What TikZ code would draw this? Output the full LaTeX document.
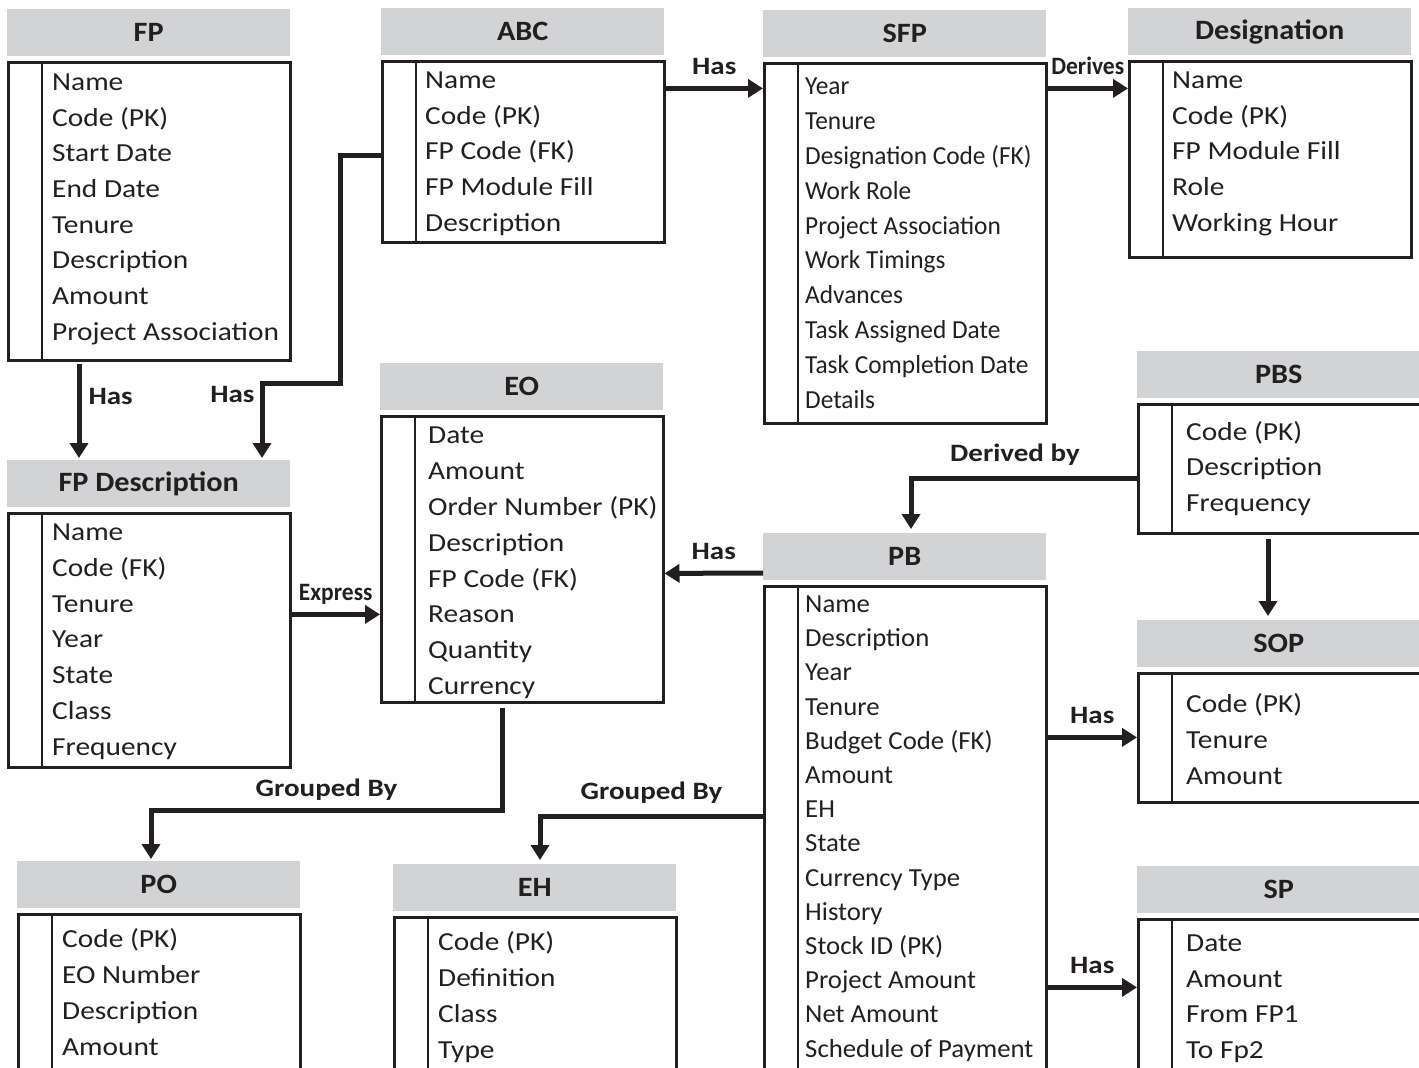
\documentclass[tikz,border=0pt]{standalone}
\usepackage{fontspec}
\setmainfont{Carlito}
\newfontfamily\wideface[FakeStretch=1.13]{Carlito}
\newfontfamily\pbface[FakeStretch=1.03]{Carlito}
\newfontfamily\sfpface[FakeStretch=0.975]{Carlito}
\newfontfamily\titleface[FakeStretch=1.08]{Carlito}
\newfontfamily\labface[FakeStretch=1.16]{Carlito}
\newfontfamily\narrowface[FakeStretch=0.94]{Carlito}
\usetikzlibrary{arrows.meta,positioning,calc}
\definecolor{ink}{HTML}{231F20}
\definecolor{headgray}{HTML}{D1D3D4}
\tikzset{
  head/.style={fill=headgray,minimum width=283pt,minimum height=47pt,inner sep=0pt,anchor=north west,text=ink,font=\titleface\fontsize{28}{30}\selectfont\bfseries},
  body/.style={draw=ink,line width=2.5pt,minimum width=282pt,inner sep=0pt,anchor=north west},
  boxline/.style={draw=ink,line width=2.5pt},
  attr/.style={anchor=base west,inner sep=0pt,text=ink,font=\wideface\fontsize{26}{30}\selectfont},
  pbattr/.style={attr/.append style={font=\pbface\fontsize{26}{30}\selectfont}},
  sfpattr/.style={attr/.append style={font=\sfpface\fontsize{26}{30}\selectfont}},
  link/.style={draw=ink,line width=5pt,-{Triangle[length=15pt,width=18pt]}},
  lab/.style={text=ink,inner sep=2pt,font=\labface\fontsize{25}{28}\selectfont\bfseries},
  narrowlab/.style={lab,font=\narrowface\fontsize{25}{28}\selectfont\bfseries}
}
% name, x, header top, body height, indent, first baseline, row step, title, rows
\newcommand{\entity}[9]{%
  \node[head] (#1h) at (#2,#3) {#8};
  \node[body,minimum height=#4pt] (#1) at ($(#1h.south west)+(0,5)$) {};
  \draw[boxline] ($(#1.north west)+(35,0)$) -- ($(#1.south west)+(35,0)$);
  \foreach \fld [count=\k] in {#9}
    \node[attr] (#1r\k) at ($(#1.north west)+(#5,{#6+(\k-1)*#7})$) {\fld};
}
\begin{document}
\begin{tikzpicture}[x=1pt,y=-1pt]
  \useasboundingbox (0,0) rectangle (1419,1068);
  \clip (0,0) rectangle (1419,1068);
  % tables
  \entity{fp}{7}{9}{298}{45}{29}{35.7}{FP}{Name,Code (PK),Start Date,End Date,Tenure,Description,Amount,Project Association}
  \entity{abc}{381}{8}{181}{44}{28}{35.75}{ABC}{Name,Code (PK),FP Code (FK),FP Module Fill,Description}
  \begin{scope}[sfpattr]
    \entity{sfp}{763}{10}{360}{42}{32}{34.9}{SFP}{Year,Tenure,Designation Code (FK),Work Role,Project Association,Work Timings,Advances,Task Assigned Date,Task Completion Date,Details}
  \end{scope}
  \entity{dsg}{1128}{8}{196}{44}{28}{35.75}{Designation}{Name,Code (PK),FP Module Fill,Role,Working Hour}
  \entity{pbs}{1137}{351}{129}{49}{37}{35.5}{PBS}{Code (PK),Description,Frequency}
  \entity{sop}{1137}{620}{129}{49}{40}{36}{SOP}{Code (PK),Tenure,Amount}
  \entity{sp}{1137}{866}{250}{49}{33}{35.7}{SP}{Date,Amount,From FP1,To Fp2}
  \begin{scope}[pbattr]
    \entity{pb}{763}{533}{600}{42}{27}{34.2}{PB}{Name,Description,Year,Tenure,Budget Code (FK),Amount,EH,State,Currency Type,History,Stock ID (PK),Project Amount,Net Amount,Schedule of Payment}
  \end{scope}
  \entity{eo}{380}{363}{286}{48}{28}{35.9}{EO}{Date,Amount,Order Number (PK),Description,FP Code (FK),Reason,Quantity,Currency}
  \entity{fpd}{7}{460}{254}{45}{28}{35.8}{FP Description}{Name,Code (FK),Tenure,Year,State,Class,Frequency}
  \entity{po}{17}{861}{250}{45}{34}{36}{PO}{Code (PK),EO Number,Description,Amount}
  \entity{eh}{393}{864}{250}{45}{34}{36}{EH}{Code (PK),Definition,Class,Type}
  % relations
  \draw[link] ($(abc.north east)+(0,28)$) -- node[lab,above=9pt] (l1) {Has} ($(sfp.north west)+(0,26)$);
  \draw[link] ($(sfp.north east)+(0,26)$) -- node[narrowlab,above=9pt] (l2) {Derives} ($(dsg.north west)+(0,28)$);
  \draw[link] ($(fp.south west)+(72,2)$) -- node[lab,right=5pt,pos=0.35] (l3) {Has} ($(fpdh.north west)+(72,-2)$);
  \draw[link] ($(abc.north west)+(0,95)$) -- ++(-41,0) |- ($(fpdh.north west)+(255,-77)$)
    -- node[lab,left=3pt,pos=0.15] (l4) {Has} ($(fpdh.north west)+(255,-2)$);
  \draw[link] ($(fpd.north east)+(0,102)$) -- node[narrowlab,above=5pt] (l5) {Express} ($(eo.north west)+(0,199)$);
  \draw[link] ($(pbh.north west)+(0,40)$) -- node[lab,above=9pt] (l6) {Has} ($(eo.north east)+(0,158)$);
  \draw[link] ($(eo.south west)+(122,4)$) |- node[lab,above=5pt,pos=0.75] (l7) {Grouped By} ($(poh.north west)+(134,-51)$)
    -- ($(poh.north west)+(134,-2)$);
  \draw[link] ($(pb.north west)+(0,231)$) -| node[lab,above=8pt,pos=0.25] (l8) {Grouped By} ($(ehh.north west)+(147,-4)$);
  \draw[link] ($(pbs.north west)+(0,75)$) -| node[lab,above=8pt,pos=0.27] (l9) {Derived by} ($(pbh.north west)+(148,-4)$);
  \draw[link] ($(pbs.south west)+(131,4)$) -- ($(soph.north west)+(131,-4)$);
  \draw[link] ($(pb.north east)+(0,152)$) -- node[lab,above=9pt] (l10) {Has} ($(sop.north west)+(0,65)$);
  \draw[link] ($(pb.north east)+(0,402)$) -- node[lab,above=9pt] (l11) {Has} ($(sp.north west)+(0,69)$);
\end{tikzpicture}
\end{document}
